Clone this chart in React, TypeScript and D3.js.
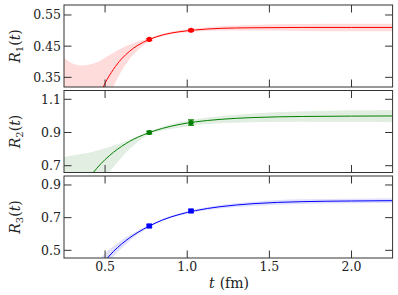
import * as d3 from 'd3';

// shared t grid for the fit curves and error bands
const fitT = [0.4, 0.45, 0.5, 0.55, 0.6, 0.65, 0.7, 0.77, 0.85, 0.95, 1.05, 1.2, 1.4, 1.7, 2.0, 2.25];
const bandT = [0.25, 0.3, 0.35, 0.4, 0.45, 0.5, 0.55, 0.6, 0.65, 0.7, 0.77, 0.85, 0.95, 1.05, 1.2, 1.4, 1.7, 2.0, 2.25];

const dataT = [0.769, 1.023];

// R1
const r1Fit = [0.192, 0.271, 0.331, 0.375, 0.409, 0.434, 0.453, 0.4715, 0.486, 0.496, 0.502, 0.507, 0.509, 0.51, 0.51, 0.51];
const r1Upper = [0.413, 0.395, 0.388, 0.39, 0.398, 0.413, 0.428, 0.443, 0.455, 0.465, 0.476, 0.49, 0.501, 0.507, 0.514, 0.518, 0.521, 0.522, 0.522];
const r1Lower = [-0.2, -0.1, 0.0, 0.1, 0.19, 0.26, 0.319, 0.37, 0.41, 0.437, 0.467, 0.482, 0.492, 0.497, 0.5, 0.5, 0.499, 0.498, 0.498];
const r1Data = [0.4715, 0.501];
const r1Err = [0.003, 0.003];

// R2
const r2Fit = [0.623, 0.685, 0.737, 0.78, 0.816, 0.847, 0.872, 0.9, 0.925, 0.948, 0.964, 0.979, 0.99, 0.9965, 0.9988, 0.9995];
const r2Upper = [0.753, 0.762, 0.77, 0.778, 0.79, 0.805, 0.82, 0.838, 0.857, 0.876, 0.906, 0.935, 0.962, 0.98, 0.998, 1.015, 1.028, 1.034, 1.036];
const r2Lower = [0.2, 0.3, 0.4, 0.48, 0.56, 0.63, 0.69, 0.75, 0.8, 0.845, 0.89, 0.912, 0.928, 0.943, 0.955, 0.962, 0.965, 0.963, 0.962];
const r2Data = [0.9, 0.96];
const r2Err = [0.008, 0.016];

// R3
const r3Fit = [0.278, 0.365, 0.435, 0.492, 0.538, 0.577, 0.61, 0.649, 0.686, 0.719, 0.743, 0.767, 0.7855, 0.798, 0.802, 0.804];
const r3Upper = [0.2, 0.28, 0.34, 0.39, 0.43, 0.48, 0.525, 0.562, 0.594, 0.622, 0.656, 0.693, 0.727, 0.752, 0.778, 0.798, 0.812, 0.816, 0.819];
const r3Lower = [0.0, 0.1, 0.18, 0.25, 0.32, 0.4, 0.46, 0.512, 0.558, 0.598, 0.642, 0.679, 0.711, 0.734, 0.756, 0.772, 0.784, 0.788, 0.789];
const r3Data = [0.649, 0.741];
const r3Err = [0.007, 0.007];

const xTicks = [0.5, 1.0, 1.5, 2.0];

const panels = [
  { sub: '1', fit: r1Fit, upper: r1Upper, lower: r1Lower, data: r1Data, err: r1Err, domain: [0.319, 0.582], ticks: [0.35, 0.45, 0.55], color: '#ff0000', band: '#ffdcdc', marker: 'circle' },
  { sub: '2', fit: r2Fit, upper: r2Upper, lower: r2Lower, data: r2Data, err: r2Err, domain: [0.659, 1.153], ticks: [0.7, 0.9, 1.1], color: '#008000', band: '#e3eee3', marker: 'circle' },
  { sub: '3', fit: r3Fit, upper: r3Upper, lower: r3Lower, data: r3Data, err: r3Err, domain: [0.453, 0.955], ticks: [0.5, 0.7, 0.9], color: '#0000ff', band: '#e0e0fc', marker: 'square' },
];

const W = 398;
const H = 295;
const left = 64;
const right = 392.6;
const tops = [5, 90.5, 176];
const ph = 82;
const tickLen = 7.5;
const font = "'DejaVu Serif', serif";
const axisColor = '#333';

export default function App() {
  const x = d3.scaleLinear().domain([0.25, 2.25]).range([left, right]);

  return (
    <svg width={W} height={H} style={{ position: 'absolute', left: 0, top: 0 }}>
      <defs>
        {panels.map((p, i) => (
          <clipPath id={`clip${i}`} key={i}>
            <rect x={left} y={tops[i]} width={right - left} height={ph} />
          </clipPath>
        ))}
      </defs>
      {panels.map((p, i) => {
        const top = tops[i];
        const y = d3.scaleLinear().domain(p.domain).range([top + ph, top]);
        const area = d3
          .area<number>()
          .x((_, j) => x(bandT[j]))
          .y0((_, j) => y(p.lower[j]))
          .y1((d) => y(d))
          .curve(d3.curveMonotoneX);
        const line = d3
          .line<number>()
          .x((_, j) => x(fitT[j]))
          .y((d) => y(d))
          .curve(d3.curveMonotoneX);
        const cy = top + ph / 2;
        return (
          <g key={i}>
            <g clipPath={`url(#clip${i})`}>
              <path d={area(p.upper) ?? ''} fill={p.band} stroke="none" />
              <path d={line(p.fit) ?? ''} fill="none" stroke={p.color} strokeWidth={1} />
            </g>
            {p.data.map((v, j) => {
              const px = x(dataT[j]);
              const y0 = y(v - p.err[j]);
              const y1 = y(v + p.err[j]);
              return (
                <g key={j} stroke={p.color} fill={p.color}>
                  <line x1={px} x2={px} y1={y0} y2={y1} strokeWidth={1.2} />
                  <line x1={px - 3} x2={px + 3} y1={y0} y2={y0} strokeWidth={1.2} />
                  <line x1={px - 3} x2={px + 3} y1={y1} y2={y1} strokeWidth={1.2} />
                  {p.marker === 'circle' ? (
                    <circle cx={px} cy={y(v)} r={2.6} stroke="none" />
                  ) : (
                    <rect x={px - 2.6} y={y(v) - 2.6} width={5.2} height={5.2} stroke="none" />
                  )}
                </g>
              );
            })}
            <rect x={left} y={top} width={right - left} height={ph} fill="none" stroke={axisColor} strokeWidth={1} />
            {xTicks.map((t) => (
              <g key={t} stroke={axisColor} strokeWidth={1}>
                <line x1={x(t)} x2={x(t)} y1={top} y2={top + tickLen} />
                <line x1={x(t)} x2={x(t)} y1={top + ph} y2={top + ph - tickLen} />
              </g>
            ))}
            {p.ticks.map((t) => (
              <g key={t}>
                <line x1={left} x2={left + tickLen} y1={y(t)} y2={y(t)} stroke={axisColor} />
                <line x1={right} x2={right - tickLen} y1={y(t)} y2={y(t)} stroke={axisColor} />
                <text x={left - 3} y={y(t)} dy="0.36em" textAnchor="end" fontFamily={font} fontSize={12.5} fill="#222">
                  {d3.format('.2~f')(t)}
                </text>
              </g>
            ))}
            <text transform={`translate(20,${cy}) rotate(-90)`} textAnchor="middle" fontFamily={font} fontSize={14} fill="#222">
              <tspan fontStyle="italic">R</tspan>
              <tspan fontSize={10} dy={3}>{p.sub}</tspan>
              <tspan dy={-3}>(</tspan>
              <tspan fontStyle="italic">t</tspan>
              <tspan>)</tspan>
            </text>
          </g>
        );
      })}
      {xTicks.map((t) => (
        <text key={t} x={x(t)} y={271} textAnchor="middle" fontFamily={font} fontSize={12.5} fill="#222">
          {t.toFixed(1)}
        </text>
      ))}
      <text x={229} y={288} textAnchor="middle" fontFamily={font} fontSize={14} fill="#222">
        <tspan fontStyle="italic">t</tspan>
        <tspan dx={5}>(fm)</tspan>
      </text>
    </svg>
  );
}
